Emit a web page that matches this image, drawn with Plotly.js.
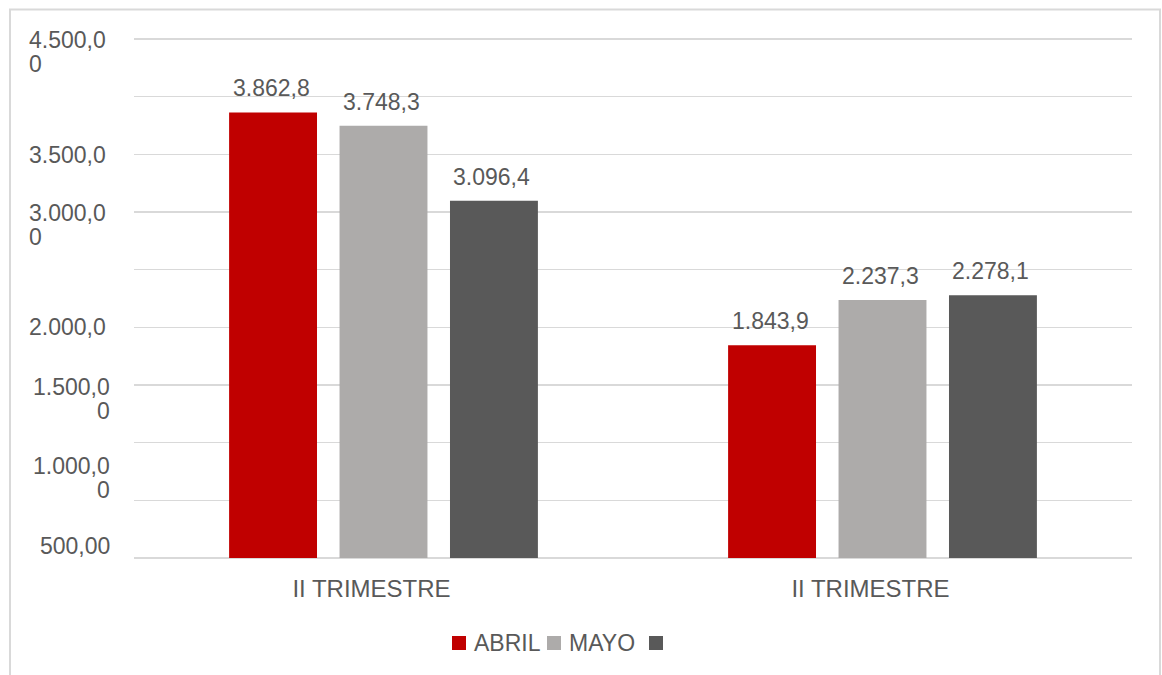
<!DOCTYPE html>
<html>
<head>
<meta charset="utf-8">
<script src="https://cdn.plot.ly/plotly-3.0.1.min.js"></script>
<style>
  html, body { margin: 0; padding: 0; background: #ffffff; }
  #chart { width: 1162px; height: 675px; }
</style>
</head>
<body>
<div id="chart"></div>
<script>
// ---- data ----
const categoryLabels = ['II TRIMESTRE', 'II TRIMESTRE'];
const seriesNames = ['ABRIL', 'MAYO', ''];
const abril = [3862.8, 1843.9];
const mayo = [3748.3, 2237.3];
const serie3 = [3096.4, 2278.1];
const yTickValues = [4500, 3500, 3000, 2000, 1500, 1000, 500];
const yTickLabels = ['4.500,0<br>0', '3.500,0', '3.000,0<br>0', '2.000,0', '1.500,0<br>0', '1.000,0<br>0', '500,00'];

// ---- styles ----
const colors = ['#C00000', '#ADABAA', '#595959'];
const textColor = '#595959';
const gridColor = '#D9D9D9';
const FONT = 'Liberation Sans, Arial, sans-serif';
const YMAX = 4560;
const PL = 134, PR = 1132, PB = 558;
const PT = Math.round(PB - 519 * YMAX / 4500); // so 4500 lands at ~y=39
const W = PR - PL, H = PB - PT;
const px2x = p => (p - PL) / W;
const px2y = p => (PB - p) / H;

const bargap = 0.336, bargroupgap = 0.204;
const series = [abril, mayo, serie3];
const xPos = categoryLabels.map((_, i) => i);

function fmt(v) {
  const s = v.toFixed(1);
  const parts = s.split('.');
  return parts[0].replace(/\B(?=(\d{3})+(?!\d))/g, '.') + ',' + parts[1];
}

const traces = series.map((vals, k) => ({
  type: 'bar',
  x: xPos,
  y: vals,
  name: seriesNames[k],
  marker: { color: colors[k] },
  showlegend: false,
  hoverinfo: 'none'
}));

const annotations = [];
const shapes = [];

// data labels
const slot = (1 - bargap) / series.length;
series.forEach((vals, k) => {
  vals.forEach((v, i) => {
    annotations.push({
      xref: 'x', yref: 'y',
      x: xPos[i] + (k - (series.length - 1) / 2) * slot,
      y: v,
      text: fmt(v),
      showarrow: false,
      xanchor: 'center', yanchor: 'middle',
      xshift: -2, yshift: 24,
      font: { family: FONT, size: 23, color: textColor }
    });
  });
});

// y tick labels (wrapped and offset like the original)
const tickAlign = ['left', 'left', 'left', 'left', 'right', 'right', 'right'];
const tickFirstOffset = [1, 1, 1, 0, 2, 23, 46];
const lineStep = 24;
yTickLabels.forEach((lbl, i) => {
  lbl.split('<br>').forEach((line, j) => {
    const left = tickAlign[i] === 'left';
    annotations.push({
      xref: 'paper', yref: 'y',
      x: left ? px2x(27) : px2x(112),
      y: yTickValues[i],
      yshift: -(tickFirstOffset[i] + j * lineStep),
      text: line,
      showarrow: false,
      xanchor: left ? 'left' : 'right',
      yanchor: 'middle',
      align: left ? 'left' : 'right',
      font: { family: FONT, size: 23, color: textColor }
    });
  });
});

// legend (manual, to match spacing)
const legendSquareX = [452, 547, 649];
const legendY = 643, sq = 14;
seriesNames.forEach((name, k) => {
  shapes.push({
    type: 'rect', xref: 'paper', yref: 'paper',
    x0: px2x(legendSquareX[k]), x1: px2x(legendSquareX[k] + sq),
    y0: px2y(legendY + sq / 2), y1: px2y(legendY - sq / 2),
    fillcolor: colors[k], line: { width: 0 }
  });
  if (name) {
    annotations.push({
      xref: 'paper', yref: 'paper',
      x: px2x(legendSquareX[k] + sq + 6), y: px2y(legendY),
      text: name, showarrow: false,
      xanchor: 'left', yanchor: 'middle',
      font: { family: FONT, size: 23, color: textColor }
    });
  }
});

// outer chart frame
shapes.push({
  type: 'rect', xref: 'paper', yref: 'paper',
  x0: px2x(10), x1: px2x(1160), y0: px2y(700), y1: px2y(9.5),
  line: { color: gridColor, width: 2 }, fillcolor: 'rgba(0,0,0,0)'
});

const layout = {
  width: 1162, height: 675,
  margin: { l: PL, r: 1162 - PR, t: PT, b: 675 - PB, pad: 0 },
  paper_bgcolor: '#ffffff', plot_bgcolor: '#ffffff',
  barmode: 'group', bargap: bargap, bargroupgap: bargroupgap,
  showlegend: false,
  font: { family: FONT, size: 23, color: textColor },
  xaxis: {
    type: 'linear', range: [-0.5, categoryLabels.length - 0.5],
    tickvals: xPos, ticktext: categoryLabels,
    showgrid: false, zeroline: false, showline: false, ticks: '',
    ticklabelstandoff: 14, ticklabelshift: -12,
    tickfont: { family: FONT, size: 24, color: textColor },
    fixedrange: true
  },
  yaxis: {
    range: [0, YMAX], dtick: 500, tick0: 0,
    showticklabels: false, ticks: '',
    showgrid: true, gridcolor: gridColor, gridwidth: 1.5,
    zeroline: true, zerolinecolor: gridColor, zerolinewidth: 1.5,
    showline: false, fixedrange: true
  },
  annotations: annotations,
  shapes: shapes
};

Plotly.newPlot('chart', traces, layout, { displayModeBar: false, staticPlot: true });
</script>
</body>
</html>
